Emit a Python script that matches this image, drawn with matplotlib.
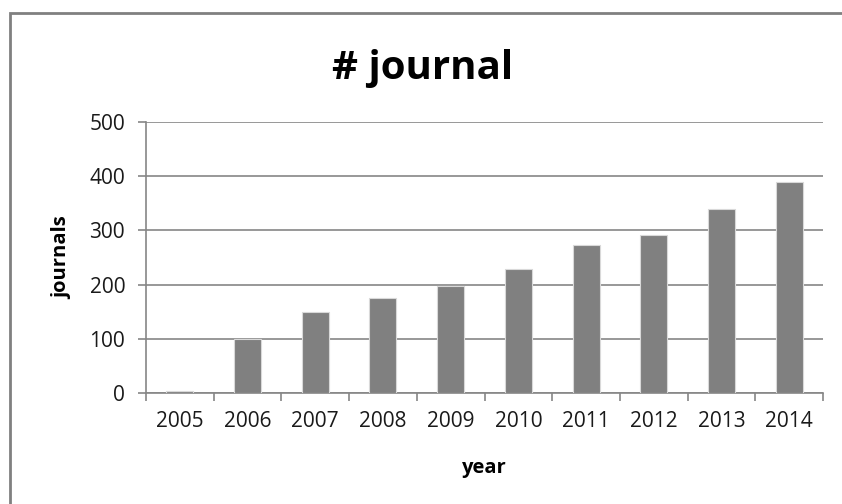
import matplotlib.pyplot as plt
from matplotlib.patches import Rectangle
import numpy as np

years = ['2005', '2006', '2007', '2008', '2009', '2010', '2011', '2012', '2013', '2014']
journals = [4, 100, 149, 175, 198, 228, 273, 291, 339, 390]

plt.rcParams['font.family'] = ['Open Sans', 'DejaVu Sans']

fig = plt.figure(figsize=(8.42, 5.04), dpi=100)
ax = fig.add_axes([146 / 842, 111 / 504, 677 / 842, 271 / 504])

grey = '#868686'
x = np.arange(len(years))
ax.bar(x, journals, width=0.4, color='#808080', edgecolor='#d9d9d9', linewidth=0.8, zorder=3)

ax.set_xlim(-0.5, len(years) - 0.5)
ax.set_ylim(0, 500)
ax.set_yticks(range(0, 501, 100))
ax.yaxis.grid(True, color=grey, linewidth=1.2, zorder=0)

# category labels centred, tick marks on the boundaries
ax.set_xticks(x)
ax.set_xticklabels(years, fontsize=15, color='#1a1a1a')
ax.set_xticks(np.arange(-0.5, len(years)), minor=True)
ax.tick_params(axis='x', which='major', length=0, pad=13)
ax.tick_params(axis='x', which='minor', length=6, color=grey, width=1.2)
ax.tick_params(axis='y', length=6, color=grey, width=1.2, labelsize=15,
               labelcolor='#1a1a1a', pad=9)

for s in ['top', 'right']:
    ax.spines[s].set_visible(False)
for s in ['left', 'bottom']:
    ax.spines[s].set_color(grey)
    ax.spines[s].set_linewidth(1.2)

ax.set_xlabel('year', fontsize=14.5, fontweight='bold', labelpad=19)
ax.set_ylabel('journals', fontsize=14.5, fontweight='bold', labelpad=12)
fig.text(423 / 842, 1 - 68 / 504, '# journal', fontsize=29, fontweight='bold',
         ha='center', va='center')

# outer chart frame (cut off at right and bottom like the reference)
fig.patches.append(Rectangle((10 / 842, -0.1), 1.2, 1.1 - 13 / 504,
                             transform=fig.transFigure, fill=False,
                             edgecolor='#808080', linewidth=2))

plt.savefig('out.png', dpi=100)
